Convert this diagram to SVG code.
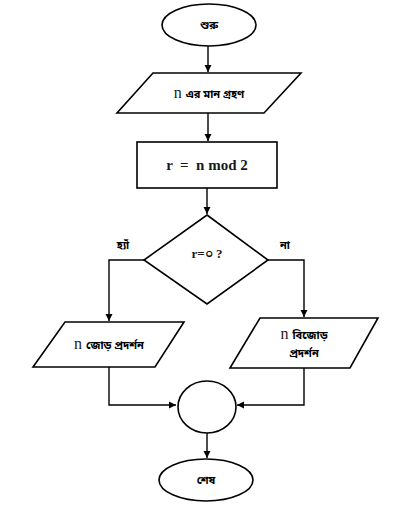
<svg xmlns="http://www.w3.org/2000/svg" width="396" height="521" viewBox="0 0 396 521">
<defs>
<marker id="ah" markerWidth="8" markerHeight="8" refX="7" refY="4" orient="auto" markerUnits="userSpaceOnUse">
<path d="M0,0.5 L7,4 L0,7.5 Z" fill="#000"/>
</marker>
<style>
.s{fill:#fff;stroke:#000;stroke-width:1.6}
.c{fill:none;stroke:#000;stroke-width:1.4}
.bn{font-family:"Noto Sans Bengali","Noto Sans","Liberation Sans",sans-serif;font-weight:bold;font-size:11px;fill:#000;text-anchor:middle}
.en{font-family:"Liberation Serif",serif;font-weight:bold;font-size:15px;fill:#1a1a1a;text-anchor:middle;white-space:pre}
.n{font-family:"Liberation Serif",serif;font-size:16px;fill:#1a1a1a}
</style>
</defs>
<rect width="396" height="521" fill="#fff"/>
<g id="connectors">
<path class="c" d="M208,46 V72" marker-end="url(#ah)"/>
<path class="c" d="M208,113 V141" marker-end="url(#ah)"/>
<path class="c" d="M207,188 V214" marker-end="url(#ah)"/>
<path class="c" d="M144,260 H109 V321" marker-end="url(#ah)"/>
<path class="c" d="M268,260 H304 V317" marker-end="url(#ah)"/>
<path class="c" d="M109,367 V405 H176" marker-end="url(#ah)"/>
<path class="c" d="M304,368 V405 H237" marker-end="url(#ah)"/>
<path class="c" d="M207,433 V458" marker-end="url(#ah)"/>
<text class="bn" x="123" y="249">হ্যাঁ</text>
<text class="bn" x="285" y="249">না</text>
</g>
<g id="start">
<ellipse class="s" cx="209" cy="25" rx="47" ry="21"/>
<text class="bn" x="209" y="29">শুরু</text>
</g>
<g id="input">
<polygon class="s" points="153,73 301,73 264,113 117,113"/>
<text x="209" y="98" text-anchor="middle"><tspan class="n">n</tspan><tspan class="bn" dx="4">এর মান গ্রহণ</tspan></text>
</g>
<g id="process">
<rect class="s" x="137" y="142" width="140" height="46"/>
<text class="en" x="207" y="170" xml:space="preserve">r  =  n mod 2</text>
</g>
<g id="decision">
<polygon class="s" points="207,215 268,260 207,304 144,260"/>
<text class="en" x="207" y="258" style="font-size:13px">r=০ ?</text>
</g>
<g id="even">
<polygon class="s" points="65,322 184,322 155,367 33,367"/>
<text x="109" y="349" text-anchor="middle"><tspan class="n">n</tspan><tspan class="bn" dx="4">জোড় প্রদর্শন</tspan></text>
</g>
<g id="odd">
<polygon class="s" points="260,318 378,318 350,368 230,368"/>
<text x="304" y="339" text-anchor="middle"><tspan class="n">n</tspan><tspan class="bn" dx="4">বিজোড়</tspan></text>
<text class="bn" x="304" y="357">প্রদর্শন</text>
</g>
<g id="join">
<ellipse class="s" cx="207" cy="407" rx="29" ry="26"/>
</g>
<g id="end">
<ellipse class="s" cx="206" cy="480" rx="47" ry="21"/>
<text class="bn" x="206" y="484">শেষ</text>
</g>
</svg>
